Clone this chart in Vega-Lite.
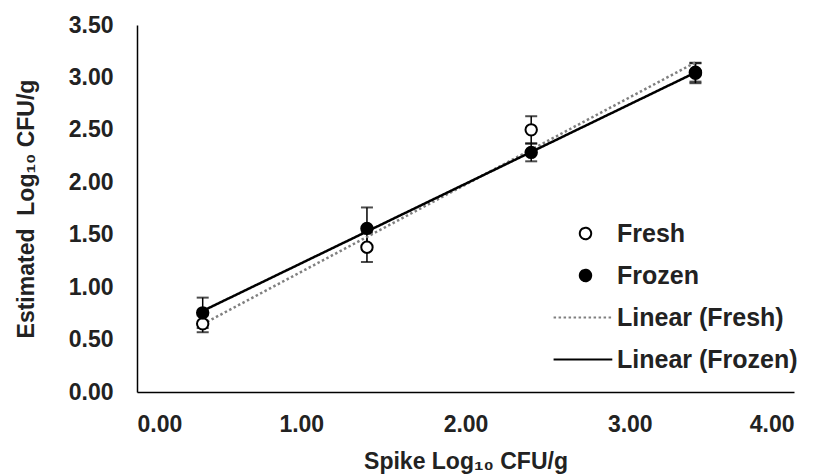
{
  "$schema": "https://vega.github.io/schema/vega-lite/v6.json",
  "width": 657,
  "height": 367,
  "autosize": "none",
  "padding": {"left": 137, "top": 25, "right": 31, "bottom": 83},
  "background": "white",
  "config": {
    "view": {"stroke": null},
    "font": "Liberation Sans",
    "axis": {
      "grid": false,
      "ticks": false,
      "domainColor": "black",
      "domainWidth": 1.5,
      "labelFont": "Liberation Sans",
      "labelFontWeight": "bold",
      "labelFontSize": 23,
      "labelColor": "#222",
      "titleFont": "Liberation Sans",
      "titleFontWeight": "bold",
      "titleFontSize": 23,
      "titleColor": "#222"
    },
    "legend": {
      "orient": "none",
      "legendX": 436,
      "legendY": 196,
      "padding": 0,
      "labelFont": "Liberation Sans",
      "labelFontWeight": "bold",
      "labelFontSize": 25,
      "labelColor": "#222",
      "labelLimit": 0,
      "symbolSize": 130,
      "symbolStrokeWidth": 2,
      "symbolOpacity": 1,
      "rowPadding": 16,
      "labelOffset": 19
    }
  },
  "data": {
    "values": [
      {"series": "Fresh", "trend": "Linear (Fresh)", "x": 0.4, "y": 0.65, "lo": 0.57, "hi": 0.73},
      {"series": "Fresh", "trend": "Linear (Fresh)", "x": 1.4, "y": 1.38, "lo": 1.24, "hi": 1.52},
      {"series": "Fresh", "trend": "Linear (Fresh)", "x": 2.4, "y": 2.50, "lo": 2.37, "hi": 2.63},
      {"series": "Fresh", "trend": "Linear (Fresh)", "x": 3.4, "y": 3.05, "lo": 2.96, "hi": 3.14},
      {"series": "Frozen", "trend": "Linear (Frozen)", "x": 0.4, "y": 0.755, "lo": 0.61, "hi": 0.90},
      {"series": "Frozen", "trend": "Linear (Frozen)", "x": 1.4, "y": 1.56, "lo": 1.36, "hi": 1.76},
      {"series": "Frozen", "trend": "Linear (Frozen)", "x": 2.4, "y": 2.285, "lo": 2.20, "hi": 2.37},
      {"series": "Frozen", "trend": "Linear (Frozen)", "x": 3.4, "y": 3.04, "lo": 2.945, "hi": 3.135}
    ]
  },
  "layer": [
    {
      "mark": {"type": "rule", "color": "black", "strokeWidth": 1.5},
      "encoding": {
        "x": {"field": "x", "type": "quantitative", "scale": {"domain": [0, 4], "nice": false, "zero": false},
              "axis": {"values": [0, 1, 2, 3, 4], "format": ".2f", "title": "Spike Log₁₀ CFU/g", "labelPadding": 21, "titlePadding": 14}},
        "y": {"field": "lo", "type": "quantitative", "scale": {"domain": [0, 3.5], "nice": false},
              "axis": {"values": [0, 0.5, 1, 1.5, 2, 2.5, 3, 3.5], "format": ".2f", "title": "Estimated\u00a0 Log₁₀ CFU/g", "labelPadding": 24, "titlePadding": 30}},
        "y2": {"field": "hi"}
      }
    },
    {
      "mark": {"type": "tick", "orient": "horizontal", "color": "black", "thickness": 2, "size": 12},
      "encoding": {
        "x": {"field": "x", "type": "quantitative"},
        "y": {"field": "lo", "type": "quantitative"}
      }
    },
    {
      "mark": {"type": "tick", "orient": "horizontal", "color": "black", "thickness": 2, "size": 12},
      "encoding": {
        "x": {"field": "x", "type": "quantitative"},
        "y": {"field": "hi", "type": "quantitative"}
      }
    },
    {
      "transform": [
        {"regression": "y", "on": "x", "groupby": ["trend"], "extent": [0.4, 3.4]}
      ],
      "mark": {"type": "line", "strokeWidth": 2.5},
      "encoding": {
        "x": {"field": "x", "type": "quantitative"},
        "y": {"field": "y", "type": "quantitative"},
        "stroke": {
          "field": "trend", "type": "nominal",
          "scale": {"domain": ["Fresh", "Frozen", "Linear (Fresh)", "Linear (Frozen)"], "range": ["black", "black", "#808080", "black"]},
          "legend": {"title": null}
        },
        "strokeDash": {
          "field": "trend", "type": "nominal",
          "scale": {"domain": ["Fresh", "Frozen", "Linear (Fresh)", "Linear (Frozen)"], "range": [[1, 0], [1, 0], [2.5, 2.5], [1, 0]]},
          "legend": {"title": null}
        }
      }
    },
    {
      "mark": {"type": "point", "filled": true, "strokeWidth": 2, "size": 130, "opacity": 1},
      "encoding": {
        "x": {"field": "x", "type": "quantitative"},
        "y": {"field": "y", "type": "quantitative"},
        "stroke": {"field": "series", "type": "nominal", "legend": {"title": null}},
        "shape": {
          "field": "series", "type": "nominal",
          "scale": {"domain": ["Fresh", "Frozen", "Linear (Fresh)", "Linear (Frozen)"], "range": ["circle", "circle", "M-5.6,0H4.7", "M-5.6,0H4.7"]},
          "legend": {"title": null}
        },
        "fill": {
          "field": "series", "type": "nominal",
          "scale": {"domain": ["Fresh", "Frozen", "Linear (Fresh)", "Linear (Frozen)"], "range": ["white", "black", "transparent", "transparent"]},
          "legend": {"title": null}
        }
      }
    }
  ]
}
